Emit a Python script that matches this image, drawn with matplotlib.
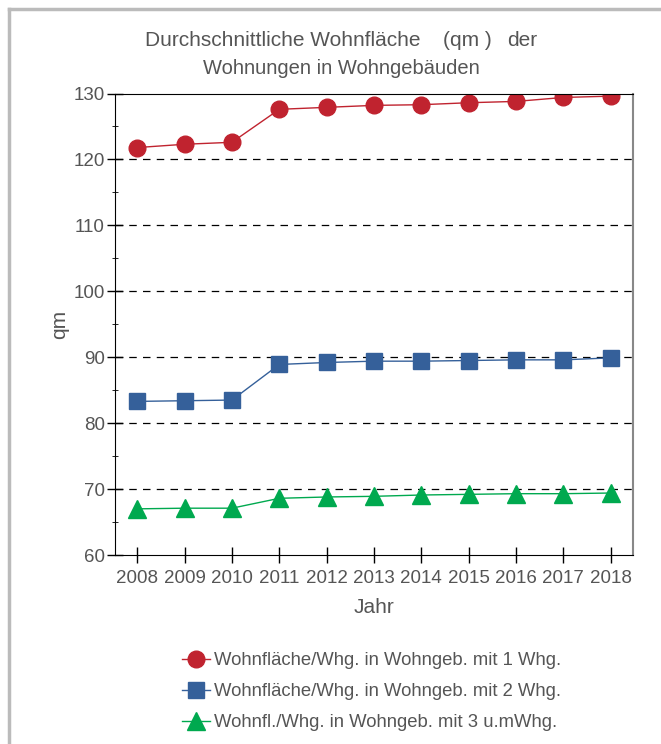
import numpy as np
import matplotlib
matplotlib.use("Agg")
import matplotlib.pyplot as plt
from matplotlib.lines import Line2D
from matplotlib.ticker import MultipleLocator

plt.rcParams['font.family'] = ['Liberation Sans', 'DejaVu Sans']

years = [2008, 2009, 2010, 2011, 2012, 2013, 2014, 2015, 2016, 2017, 2018]
# average living space per dwelling (qm)
whg1 = [121.8, 122.3, 122.6, 127.6, 127.9, 128.2, 128.3, 128.6, 128.8, 129.4, 129.6]
whg2 = [83.3, 83.4, 83.5, 88.9, 89.2, 89.4, 89.4, 89.5, 89.6, 89.6, 89.9]
whg3 = [67.0, 67.1, 67.1, 68.6, 68.8, 68.9, 69.1, 69.2, 69.3, 69.3, 69.4]

labels = ["Wohnfläche/Whg. in Wohngeb. mit 1 Whg.",
          "Wohnfläche/Whg. in Wohngeb. mit 2 Whg.",
          "Wohnfl./Whg. in Wohngeb. mit 3 u.mWhg."]

txt = '#555555'
W, H = 661, 744

fig = plt.figure(figsize=(6.61, 7.44), dpi=100)
ax = fig.add_axes([115/W, 1-555/H, (633-115)/W, (555-93.5)/H])

ax.plot(years, whg1, color='#c0232f', lw=1, marker='o', ms=12, label=labels[0])
ax.plot(years, whg2, color='#35609a', lw=1, marker='s', ms=11.5, label=labels[1])
ax.plot(years, whg3, color='#00a94f', lw=1, marker='^', ms=13.5, label=labels[2])

ax.set_xlim(2007.53, 2018.47)
ax.set_ylim(60, 130)
ax.set_xticks(years)
ax.yaxis.set_major_locator(MultipleLocator(10))
ax.yaxis.set_minor_locator(MultipleLocator(5))
ax.tick_params(axis='both', which='major', direction='inout', length=12,
               labelsize=13.5, labelcolor=txt, width=1)
ax.tick_params(axis='y', which='minor', direction='inout', length=5)
ax.tick_params(axis='x', pad=4.5)
ax.tick_params(axis='y', pad=1.2)
for t in [70, 80, 90, 100, 110, 120]:
    ax.axhline(t, color='black', lw=0.9, ls=(0, (6, 5)), zorder=0)

ax.spines['right'].set_color('#888888')
ax.spines['right'].set_linewidth(1.5)

ax.set_xlabel("Jahr", fontsize=15, color=txt, labelpad=8)
ax.set_ylabel("qm", fontsize=15, color=txt, labelpad=3)

# title, pieces placed like the original
fig.text(145/W, 1-40/H, "Durchschnittliche Wohnfläche", ha='left', va='center',
         fontsize=15, color=txt)
fig.text(443/W, 1-40/H, "(qm )", ha='left', va='center', fontsize=15, color=txt)
fig.text(507/W, 1-40/H, "der", ha='left', va='center', fontsize=15, color=txt)
fig.text(341/W, 1-69/H, "Wohnungen in Wohngebäuden", ha='center', va='center',
         fontsize=14.5, color=txt)

fig.legend(loc='upper left', bbox_to_anchor=(175/W, 1-645/H), frameon=False,
           fontsize=13.3, labelcolor=txt, handlelength=1.5, handletextpad=0.2,
           labelspacing=0.75, markerscale=1.0, borderaxespad=0)

# grey frame around the chart
fig.add_artist(Line2D([8.5/W, 1], [1-8.5/H, 1-8.5/H], color='#bbbbbb', lw=2.5,
                      transform=fig.transFigure))
fig.add_artist(Line2D([8.5/W, 8.5/W], [0, 1-8.5/H], color='#bbbbbb', lw=2.5,
                      transform=fig.transFigure))

fig.savefig("out.png", dpi=100)
